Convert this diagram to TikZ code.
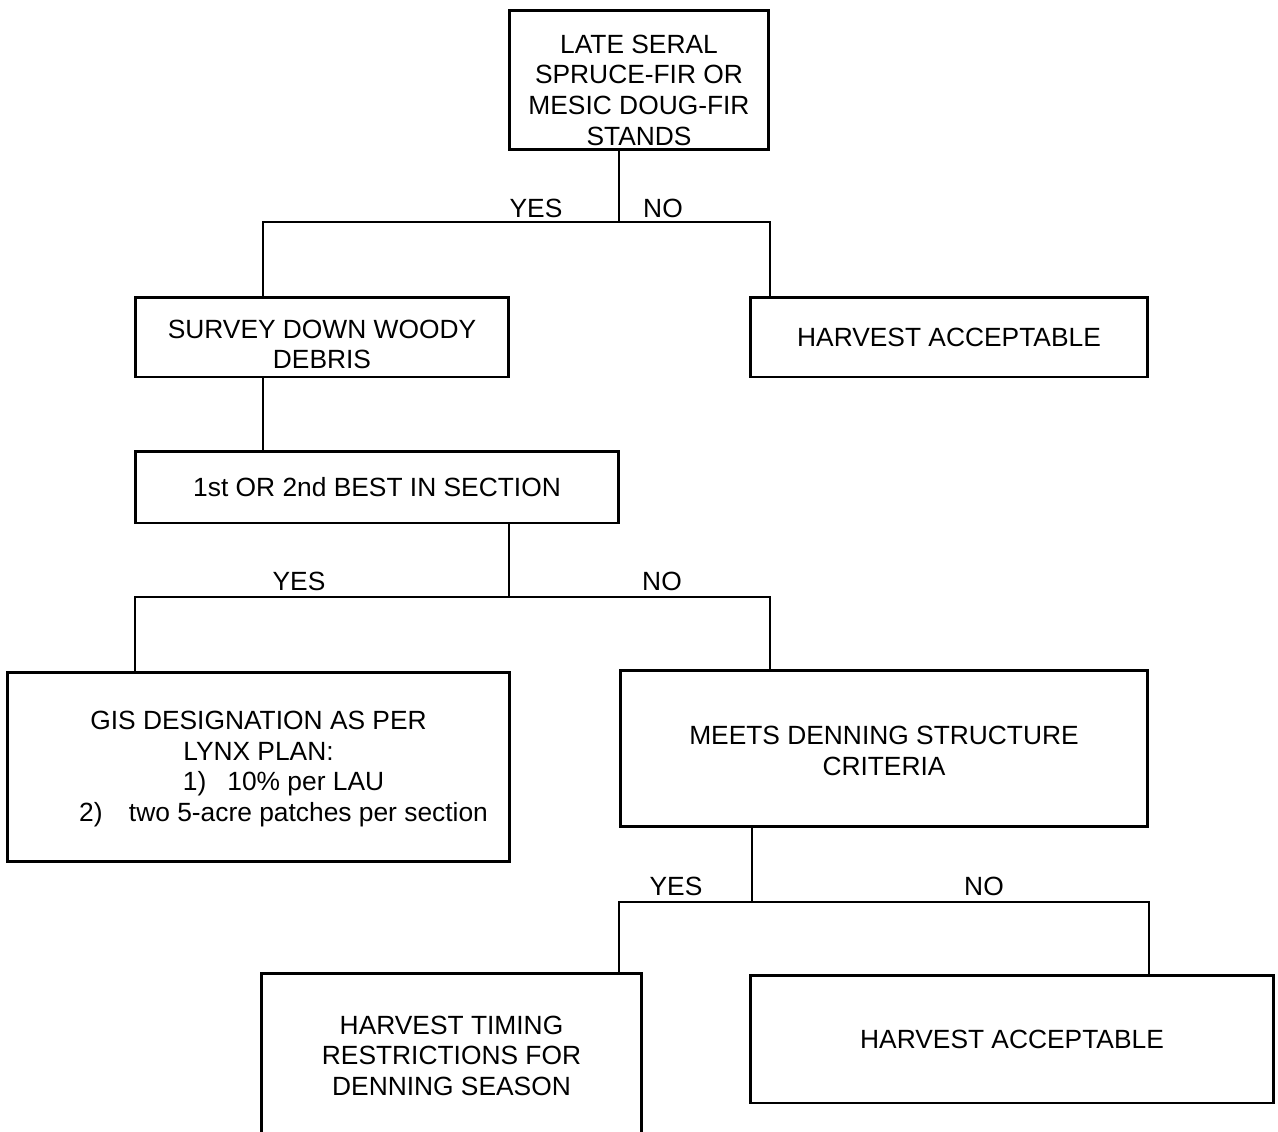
\documentclass[tikz,border=0pt]{standalone}
\usepackage{fontspec}
\setmainfont{Liberation Sans}
\usetikzlibrary{calc}
\newcommand{\toppad}[1]{\rule{0pt}{#1}}
\tikzset{
  box/.style={draw,line width=1.7pt,inner sep=0pt,align=center,
    font=\fontsize{15}{17.4}\selectfont},
  openbox/.style={box,draw=none},
  frame/.style={line width=1.7pt},
  wire/.style={line width=1pt},
  tag/.style={inner sep=0pt,font=\fontsize{15}{17.4}\selectfont},
}

\begin{document}
\begin{tikzpicture}[x=0.02cm,y=-0.02cm]
\useasboundingbox (0,0) rectangle (1278,1132);
\coordinate (pagebot) at (0,1132);

% boxes
\node[box,minimum width=5.2cm,minimum height=2.8cm] (stand) at (639,80)
  {\toppad{22pt}LATE SERAL\\SPRUCE-FIR OR\\MESIC DOUG-FIR\\STANDS};
\node[box,minimum width=7.48cm,minimum height=1.6cm] (survey) at (322,337)
  {\toppad{19pt}SURVEY DOWN WOODY\\DEBRIS};
\node[box,minimum width=7.96cm,minimum height=1.6cm] (harvA) at (949,337)
  {HARVEST ACCEPTABLE};
\node[box,minimum width=9.68cm,minimum height=1.44cm] (best) at (377,487)
  {1st OR 2nd BEST IN SECTION};
\node[box,minimum width=10.06cm,minimum height=3.8cm] (gis) at (258.5,767)
  {\toppad{13pt}GIS DESIGNATION AS PER\\LYNX PLAN:\\
   \hspace*{1.9em}1)\hspace{0.8em}10\% per LAU\\
   \hspace*{1.9em}2)\hspace{1em}two 5-acre patches per section};
\node[box,minimum width=10.56cm,minimum height=3.14cm] (meets) at (884,748.5)
  {\toppad{13.5pt}MEETS DENNING STRUCTURE\\CRITERIA};
\node[openbox,minimum width=7.54cm,minimum height=3.04cm] (timing) at (451.5,1051)
  {\toppad{16pt}HARVEST TIMING\\RESTRICTIONS FOR\\DENNING SEASON};
\node[box,minimum width=10.48cm,minimum height=2.56cm] (harvB) at (1012,1039)
  {HARVEST ACCEPTABLE};
% timing box runs off the page
\draw[frame] (timing.south west |- pagebot) -- (timing.north west)
  -- (timing.north east) -- (timing.south east |- pagebot);

% junctions
\coordinate (s1) at (619,222);
\coordinate (d1) at (263,222);
\coordinate (d2) at (770,222);
\coordinate (s2) at (509,597);
\coordinate (d3) at (135,597);
\coordinate (d4) at (770,597);
\coordinate (s3) at (752,902);
\coordinate (d5) at (619,902);
\coordinate (d6) at (1149,902);

% connectors
\draw[wire] (stand.south -| s1) -- (s1);
\draw[wire] (survey.north -| d1) -- (d1) -- (d2) -- (harvA.north -| d2);
\draw[wire] (survey.south -| d1) -- (best.north -| d1);
\draw[wire] (best.south -| s2) -- (s2);
\draw[wire] (gis.north -| d3) -- (d3) -- (d4) -- (meets.north -| d4);
\draw[wire] (meets.south -| s3) -- (s3);
\draw[wire] (timing.north -| d5) -- (d5) -- (d6) -- (harvB.north -| d6);

% answers
\node[tag] (yesA) at (536,208) {YES};
\node[tag] (noA) at (663,208) {NO};
\node[tag] (yesB) at (299,581) {YES};
\node[tag] (noB) at (662,581) {NO};
\node[tag] (yesC) at (676,886) {YES};
\node[tag] (noC) at (984,886) {NO};
\end{tikzpicture}
\end{document}
